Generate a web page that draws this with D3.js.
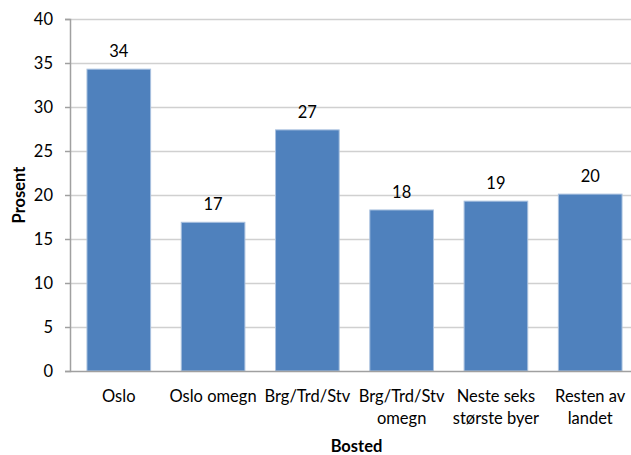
<!DOCTYPE html>
<html>
<head>
<meta charset="utf-8">
<script src="https://cdn.jsdelivr.net/npm/d3@7"></script>
<style>
  html, body { margin: 0; padding: 0; background: #fff; overflow: hidden; }
  svg { display: block; font-family: Lato, "Open Sans", sans-serif; }
</style>
</head>
<body>
<svg id="chart" width="631" height="455"></svg>
<script>
// Bosted (place of residence) and share in percent
const categories = [
  ["Oslo"],
  ["Oslo omegn"],
  ["Brg/Trd/Stv"],
  ["Brg/Trd/Stv", "omegn"],
  ["Neste seks", "største byer"],
  ["Resten av", "landet"]
];
const values = [34.3, 16.9, 27.4, 18.3, 19.3, 20.1];
const yTicks = [0, 5, 10, 15, 20, 25, 30, 35, 40];
const xTitle = "Bosted";
const yTitle = "Prosent";

const svg = d3.select("#chart");
const margin = { left: 70, top: 19, right: 639, bottom: 371 };
const fs = 16.5;

const x = d3.scaleBand()
  .domain(d3.range(categories.length))
  .range([margin.left, margin.right])
  .paddingInner(0.325)
  .paddingOuter(0.18);

const y = d3.scaleLinear()
  .domain([0, 40])
  .range([margin.bottom, margin.top]);

// horizontal gridlines
svg.append("g")
  .selectAll("line")
  .data(yTicks.filter(t => t > 0))
  .join("line")
  .attr("x1", margin.left)
  .attr("x2", margin.right)
  .attr("y1", d => y(d) + 0.5)
  .attr("y2", d => y(d) + 0.5)
  .attr("stroke", "#d0d0d0")
  .attr("stroke-width", 1.5);

// y axis
const yAxis = d3.axisLeft(y)
  .tickValues(yTicks)
  .tickSize(5)
  .tickPadding(12)
  .tickFormat(d3.format("d"));
const gy = svg.append("g")
  .attr("transform", `translate(${margin.left},0)`)
  .call(yAxis);
gy.select(".domain").attr("stroke", "#a0a0a0").attr("stroke-width", 1.5);
gy.selectAll(".tick line").attr("stroke", "#a0a0a0").attr("stroke-width", 1.5);
gy.selectAll(".tick text")
  .attr("font-size", fs)
  .attr("fill", "#000")
  .attr("font-family", "Lato, sans-serif");

// bars
svg.append("g")
  .selectAll("rect")
  .data(values)
  .join("rect")
  .attr("x", (d, i) => x(i))
  .attr("y", d => y(d))
  .attr("width", x.bandwidth())
  .attr("height", d => y(0) - y(d))
  .attr("fill", "#4f81bd")
  .attr("stroke", "#a9c1df")
  .attr("stroke-width", 1);

// x axis baseline
svg.append("line")
  .attr("x1", margin.left)
  .attr("x2", margin.right)
  .attr("y1", y(0) + 0.5)
  .attr("y2", y(0) + 0.5)
  .attr("stroke", "#a0a0a0")
  .attr("stroke-width", 1.5);

// value labels
svg.append("g")
  .selectAll("text")
  .data(values)
  .join("text")
  .attr("x", (d, i) => x(i) + x.bandwidth() / 2)
  .attr("y", d => y(d) - 12)
  .attr("text-anchor", "middle")
  .attr("font-size", fs)
  .attr("fill", "#000")
  .text(d => d3.format(".0f")(d));

// category labels
const cat = svg.append("g")
  .selectAll("text")
  .data(categories)
  .join("text")
  .attr("text-anchor", "middle")
  .attr("font-size", fs)
  .attr("fill", "#000");
cat.each(function(lines, i) {
  d3.select(this).selectAll("tspan")
    .data(lines)
    .join("tspan")
    .attr("x", x(i) + x.bandwidth() / 2)
    .attr("y", (l, j) => 402 + j * 22)
    .text(l => l);
});

// axis titles
svg.append("text")
  .attr("x", (margin.left + margin.right) / 2 + 2)
  .attr("y", 452)
  .attr("text-anchor", "middle")
  .attr("font-size", fs)
  .attr("font-weight", "bold")
  .text(xTitle);

svg.append("text")
  .attr("transform", `translate(25,${(margin.top + margin.bottom) / 2}) rotate(-90)`)
  .attr("text-anchor", "middle")
  .attr("font-size", fs)
  .attr("font-weight", "bold")
  .text(yTitle);
</script>
</body>
</html>
